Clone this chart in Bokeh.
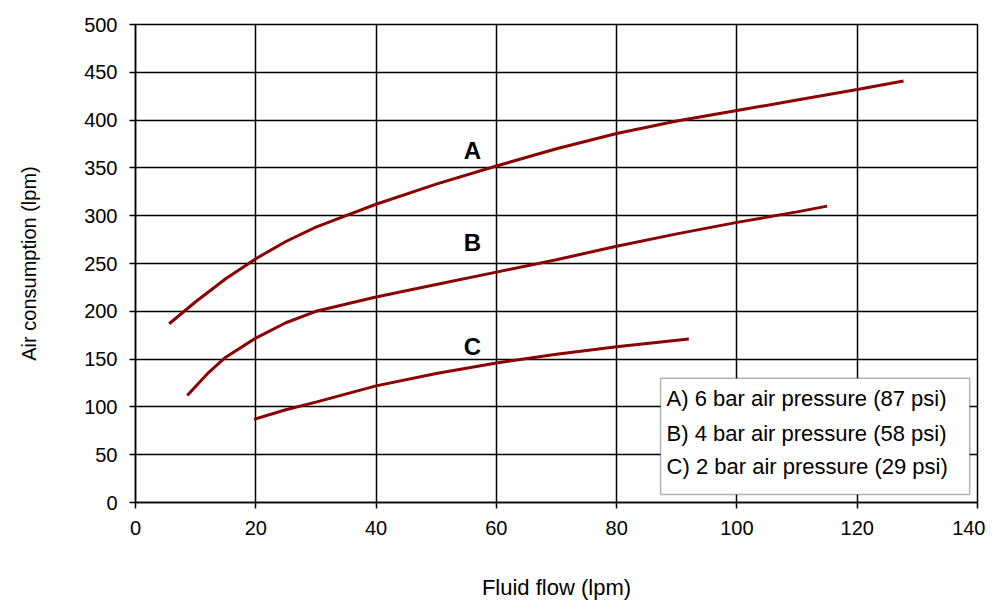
from bokeh.plotting import figure
from bokeh.models import Range1d, SingleIntervalTicker, BoxAnnotation, Label
from bokeh.core.properties import value
from bokeh.embed import file_html
from bokeh.resources import INLINE

# Curve data
a_x = [5.6, 10, 15, 20, 25, 30, 35, 40, 50, 60, 70, 80, 90, 100, 110, 120, 127.7]
a_y = [187, 210, 234, 255, 273, 288, 300, 312, 333, 352, 370, 386, 399, 410, 421, 432, 441]
b_x = [8.6, 12, 15, 20, 25, 30, 40, 50, 60, 70, 80, 90, 100, 110, 115]
b_y = [112, 135, 152, 172, 188, 200, 215, 228, 241, 254, 268, 281, 293, 304, 310]
c_x = [19.7, 25, 30, 40, 50, 60, 70, 80, 92]
c_y = [87, 97, 105, 122, 135, 146, 155, 163, 171]

curve_labels = ["A", "B", "C"]
curve_label_x = [56, 56, 56]
curve_label_y = [368, 272, 163]

legend_texts = ["A) 6 bar air pressure (87 psi)",
                "B) 4 bar air pressure (58 psi)",
                "C) 2 bar air pressure (29 psi)"]
legend_y = [109, 72, 37.5]

FONT = "Liberation Sans"
LINE_COLOR = "#8b0000"

p = figure(width=985, height=607, output_backend="svg", toolbar_location=None,
           x_range=Range1d(0, 140), y_range=Range1d(0, 500),
           min_border_left=135, min_border_right=8, min_border_top=24, min_border_bottom=105)

p.background_fill_color = "white"
p.border_fill_color = "white"
p.outline_line_color = "black"
p.outline_line_width = 1.5

for ax in (p.xaxis[0], p.yaxis[0]):
    ax.axis_line_color = "black"
    ax.axis_line_width = 1.5
    ax.major_tick_line_color = "black"
    ax.major_tick_line_width = 1.5
    ax.major_tick_in = 0
    ax.major_tick_out = 6
    ax.minor_tick_line_color = None
    ax.major_label_text_font = FONT
    ax.major_label_text_font_size = "20px"
    ax.major_label_text_color = "black"
    ax.axis_label_text_font = FONT
    ax.axis_label_text_font_style = "normal"
    ax.axis_label_text_color = "black"

p.xaxis.ticker = SingleIntervalTicker(interval=20)
p.yaxis.ticker = SingleIntervalTicker(interval=50)
p.xaxis.axis_label = "Fluid flow (lpm)"
p.yaxis.axis_label = "Air consumption (lpm)"
p.xaxis.axis_label_text_font_size = "22px"
p.yaxis.axis_label_text_font_size = "20px"
p.xaxis.major_label_standoff = 12
p.yaxis.major_label_standoff = 12
p.xaxis.axis_label_standoff = 37
p.yaxis.axis_label_standoff = 41

p.xgrid.ticker = SingleIntervalTicker(interval=20)
p.ygrid.ticker = SingleIntervalTicker(interval=50)
for g in (p.xgrid[0], p.ygrid[0]):
    g.grid_line_color = "black"
    g.grid_line_width = 1.5
    g.grid_line_alpha = 1.0

p.line(a_x, a_y, line_color=LINE_COLOR, line_width=3)
p.line(b_x, b_y, line_color=LINE_COLOR, line_width=3)
p.line(c_x, c_y, line_color=LINE_COLOR, line_width=3)

p.text(x=curve_label_x, y=curve_label_y, text=curve_labels,
       text_font=value(FONT), text_font_style="bold", text_font_size="24px",
       text_align="center", text_baseline="middle", text_color="black")

box = BoxAnnotation(left=87.3, right=138.7, bottom=8.4, top=130,
                    fill_color="white", fill_alpha=1.0,
                    line_color="black", line_width=1.5, level="overlay")
p.add_layout(box)
for t, yy in zip(legend_texts, legend_y):
    p.add_layout(Label(x=88.3, y=yy, text=t, text_font=FONT, text_font_size="22px",
                       text_baseline="middle", text_align="left", text_color="black",
                       level="overlay"))

open("out.html", "w").write(file_html(p, INLINE))
